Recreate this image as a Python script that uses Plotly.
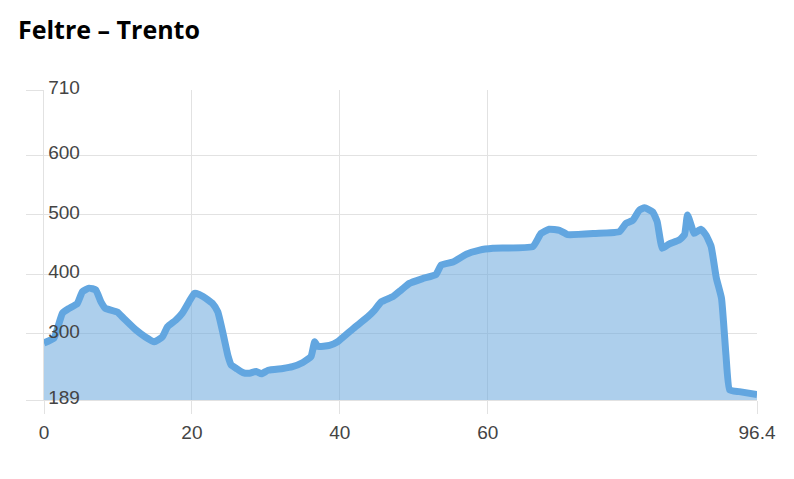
import plotly.graph_objects as go

# Elevation profile Feltre – Trento (km, m)
distance_km = [0.0, 1.35, 2.5, 3.4, 4.5, 5.2, 6.1, 7.0, 7.7, 8.3, 9.9, 10.8, 12.4, 13.7, 14.9,
               16.0, 16.7, 17.8, 18.7, 19.6, 20.3, 20.6, 21.5, 22.8, 23.5, 24.2, 24.9, 25.3,
               26.0, 26.9, 27.8, 28.7, 29.4, 30.3, 32.3, 33.6, 35.0, 36.1, 36.6, 37.0, 38.6,
               39.7, 41.8, 43.8, 44.7, 45.6, 47.2, 48.3, 49.4, 51.2, 53.0, 53.7, 55.3, 57.1,
               58.9, 60.7, 66.1, 67.2, 68.3, 69.7, 70.8, 74.6, 77.8, 78.7, 79.6, 80.5, 81.2,
               82.3, 82.9, 83.6, 84.5, 85.9, 86.6, 87.0, 87.5, 87.9, 88.8, 89.5, 90.2, 90.9,
               91.6, 92.2, 92.7, 94.0, 96.4]
elevation_m = [285, 293, 335, 343, 351, 371, 377, 374, 354, 343, 337, 326, 307, 295, 287,
               295, 312, 323, 335, 354, 368, 368, 363, 351, 337, 301, 262, 248,
               242, 235, 234, 237, 233, 239, 242, 245, 252, 262, 287, 279, 281,
               287, 309, 329, 340, 354, 363, 374, 385, 393, 400, 416, 421, 434,
               441, 444, 447, 469, 476, 474, 467, 469, 472, 486, 491, 508, 512,
               505, 489, 444, 451, 458, 467, 500, 483, 469, 476, 466, 447, 394,
               360, 265, 206, 203, 198]

x_ticks = [0, 20, 40, 60, 96.4]
x_tick_labels = ["0", "20", "40", "60", "96.4"]
y_ticks = [189, 300, 400, 500, 600, 710]
y_tick_labels = ["189", "300", "400", "500", "600", "710"]

# page body has an 8px margin, so the figure is drawn offset by (8, 8)
OFF = 8
W, H = 794 - OFF, 479 - OFF
ML, MR, MT, MB = 44 - OFF, 37, 90 - OFF, 79
PW, PH = W - ML - MR, H - MT - MB

fig = go.Figure()
fig.add_trace(go.Scatter(
    x=distance_km, y=elevation_m, mode="lines",
    line=dict(color="rgb(98,166,224)", width=7, shape="spline", smoothing=0.4),
    fill="tozeroy", fillcolor="rgba(106,168,220,0.55)",
    hoverinfo="skip",
))

axis_font = dict(family="Liberation Sans, Arial, sans-serif", size=19, color="#444")
grid = "#e2e2e2"

fig.add_annotation(
    text="<b>Feltre – Trento</b>", showarrow=False,
    xref="paper", yref="paper",
    x=(17 - OFF - ML) / PW, xanchor="left",
    y=(H - MB - (29 - OFF)) / PH, yanchor="middle",
    font=dict(family="Open Sans, sans-serif", size=25, color="#000"),
    borderpad=0,
)

fig.update_layout(
    width=W, height=H,
    margin=dict(l=ML, r=MR, t=MT, b=MB, autoexpand=False),
    paper_bgcolor="white", plot_bgcolor="white",
    showlegend=False,
    xaxis=dict(range=[0, 96.4], tickvals=x_ticks, ticktext=x_tick_labels,
               showgrid=True, gridcolor=grid, gridwidth=1, zeroline=False,
               showline=True, linecolor=grid, linewidth=1,
               ticks="outside", ticklen=13, tickcolor=grid,
               ticklabelstandoff=2,
               automargin=False, ticklabeloverflow="allow",
               tickfont=axis_font),
    yaxis=dict(range=[189, 710], tickvals=y_ticks, ticktext=y_tick_labels,
               showgrid=True, gridcolor=grid, gridwidth=1, zeroline=False,
               showline=True, linecolor=grid, linewidth=1,
               ticks="outside", ticklen=17, tickcolor=grid,
               ticklabelposition="inside", ticklabelshift=-3, ticklabelstandoff=5,
               automargin=False, ticklabeloverflow="allow",
               tickfont=axis_font),
)

fig.write_html("out.html")
